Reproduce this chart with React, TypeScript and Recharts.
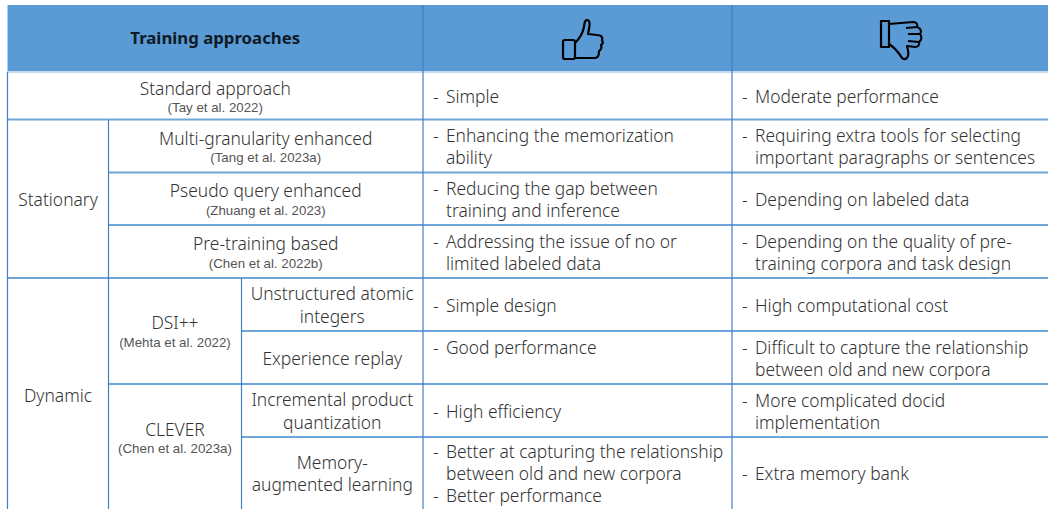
import { ReferenceArea, ReferenceLine, Scatter, ScatterChart, XAxis, YAxis } from "recharts";

const WIDTH = 1048;
const HEIGHT = 509;

// table text, top to bottom
const groups = ["Stationary", "Dynamic"];
const standardApproach = ["Standard approach", "(Tay et al. 2022)"];
const stationaryMethods = [
  ["Multi-granularity enhanced", "(Tang et al. 2023a)"],
  ["Pseudo query enhanced", "(Zhuang et al. 2023)"],
  ["Pre-training based", "(Chen et al. 2022b)"]
];
const dynamicMethods = [
  ["DSI++", "(Mehta et al. 2022)"],
  ["CLEVER", "(Chen et al. 2023a)"]
];
const dynamicVariants = [
  ["Unstructured atomic", "integers"],
  ["Experience replay"],
  ["Incremental product", "quantization"],
  ["Memory-", "augmented learning"]
];
const pros = [
  ["- Simple"],
  ["- Enhancing the memorization", "ability"],
  ["- Reducing the gap between", "training and inference"],
  ["- Addressing the issue of no or", "limited labeled data"],
  ["- Simple design"],
  // top aligned in the source, the blank line keeps it on the first row
  ["- Good performance", ""],
  ["- High efficiency"],
  ["- Better at capturing the relationship", "between old and new corpora", "- Better performance"]
];
const cons = [
  ["- Moderate performance"],
  ["- Requiring extra tools for selecting", "important paragraphs or sentences"],
  ["- Depending on labeled data"],
  ["- Depending on the quality of pre-", "training corpora and task design"],
  ["- High computational cost"],
  ["- Difficult to capture the relationship", "between old and new corpora"],
  ["- More complicated docid", "implementation"],
  ["- Extra memory bank"]
];

// table grid
const colEdges = [7.5, 108.5, 241.5, 423, 732, WIDTH];
const rowEdges = [5, 72, 119.5, 172.5, 225, 278, 331, 384, 437, 509];

const horizontalLines = [
  { row: 2, from: 0 },
  { row: 3, from: 1 },
  { row: 4, from: 1 },
  { row: 5, from: 0 },
  { row: 6, from: 2 },
  { row: 7, from: 1 },
  { row: 8, from: 2 }
];
const verticalLines = [
  { col: 0, from: 1 },
  { col: 1, from: 2 },
  { col: 2, from: 5 },
  { col: 3, from: 0 },
  { col: 4, from: 0 }
];

const FONT = "'Noto Sans', sans-serif";
const CITE_FONT = "'Liberation Sans', sans-serif";
const TEXT_COLOR = "#333333";
const CITE_COLOR = "#555555";
const MAIN_SIZE = 17.4;

interface Cell {
  x: number;
  y: number;
  lines: string[];
  kind: "center" | "method" | "list" | "title" | "up" | "down";
}

const centerX = (col: number, end: number) => (colEdges[col] + colEdges[end]) / 2;
const centerY = (row: number, end: number) => (rowEdges[row] + rowEdges[end]) / 2;

const cells: Cell[] = [
  { x: centerX(0, 3), y: 37, lines: ["Training approaches"], kind: "title" },
  { x: 583, y: 40, lines: [], kind: "up" },
  { x: 901, y: 40, lines: [], kind: "down" },
  { x: centerX(0, 3), y: centerY(1, 2) + 1, lines: standardApproach, kind: "method" },
  { x: centerX(0, 1), y: centerY(2, 5), lines: [groups[0]], kind: "center" },
  { x: centerX(0, 1), y: centerY(5, 9) + 1, lines: [groups[1]], kind: "center" },
  ...stationaryMethods.map((lines, i) => ({
    x: centerX(1, 3),
    y: centerY(i + 2, i + 3) + 0.5,
    lines,
    kind: "method" as const
  })),
  // the table is cropped at the bottom, so CLEVER sits above the visible middle
  { x: centerX(1, 2), y: centerY(5, 7), lines: dynamicMethods[0], kind: "method" },
  { x: centerX(1, 2), y: centerY(7, 9) - 9, lines: dynamicMethods[1], kind: "method" },
  ...dynamicVariants.map((lines, i) => ({
    x: centerX(2, 3),
    y: centerY(i + 5, i + 6),
    lines,
    kind: "center" as const
  })),
  ...pros.map((lines, i) => ({
    x: colEdges[3] + 10,
    y: centerY(i + 1, i + 2),
    lines,
    kind: "list" as const
  })),
  ...cons.map((lines, i) => ({
    x: colEdges[4] + 10,
    y: centerY(i + 1, i + 2),
    lines,
    kind: "list" as const
  }))
];

function ThumbUp({ cx, cy }: { cx: number; cy: number }) {
  return (
    <g transform={`translate(${cx},${cy})`} fill="none" stroke="#000000" strokeWidth={2.2} strokeLinejoin="round">
      <rect x={-20} y={0} width={12} height={19} rx={2} />
      <path d="M-8 3 C-3 -2 0 -8 1 -13 C1.5 -18 2 -20 4 -20 C7 -20 7 -16 6 -11 L5 -6 L14 -5 C18 -5 20 -3 19 0 C20 2 20 4 18 5 C19 7 18 10 16 11 C16 14 15 18 12 18 L-8 18" />
    </g>
  );
}

function ThumbDown({ cx, cy }: { cx: number; cy: number }) {
  return (
    <g transform={`translate(${cx},${cy})`} fill="none" stroke="#000000" strokeWidth={2.2} strokeLinejoin="round">
      <rect x={-20} y={-19} width={8} height={26} />
      <path d="M-12 -16 L12 -18 C16 -18 17 -15 16 -13 C20 -12 21 -8 19 -6 C21 -4 21 0 18 2 C19 5 17 7 14 7 L6 6 C7 10 8 14 7 16 C6 19 3 20 1 18 C-2 13 -6 8 -12 4" />
      <path d="M5 -12 L16 -13 M7 -6 L19 -6 M7 1 L18 2" />
    </g>
  );
}

function CellMark(props: any) {
  const { cx, cy, payload } = props;
  const cell = payload as Cell;

  if (cell.kind === "up") return <ThumbUp cx={cx} cy={cy} />;
  if (cell.kind === "down") return <ThumbDown cx={cx} cy={cy} />;

  if (cell.kind === "title") {
    return (
      <text x={cx} y={cy} textAnchor="middle" dominantBaseline="central" fontFamily={FONT} fontSize={16.8} fontWeight={700} fill="#0f1a26">
        {cell.lines[0]}
      </text>
    );
  }

  if (cell.kind === "method") {
    return (
      <g textAnchor="middle">
        <text x={cx} y={cy - 9} dominantBaseline="central" fontFamily={FONT} fontWeight={300} fontSize={MAIN_SIZE} fill={TEXT_COLOR}>
          {cell.lines[0]}
        </text>
        <text x={cx} y={cy + 11} dominantBaseline="central" fontFamily={CITE_FONT} fontSize={13.3} fill={CITE_COLOR}>
          {cell.lines[1]}
        </text>
      </g>
    );
  }

  if (cell.kind === "center") {
    const pitch = 22.5;
    const top = cy - ((cell.lines.length - 1) * pitch) / 2;
    return (
      <g fontFamily={FONT} fontWeight={300} textAnchor="middle" fontSize={MAIN_SIZE} fill={TEXT_COLOR}>
        {cell.lines.map((line, i) => (
          <text key={line} x={cx} y={top + i * pitch} dominantBaseline="central">
            {line}
          </text>
        ))}
      </g>
    );
  }

  // list cell: dash in the margin, wrapped lines hang under the text
  const pitch = 22;
  const top = cy - ((cell.lines.length - 1) * pitch) / 2;
  return (
    <g fontFamily={FONT} fontWeight={300} fontSize={MAIN_SIZE} fill={TEXT_COLOR}>
      {cell.lines.map((line, i) => {
        if (!line) return null;
        const hasDash = line.startsWith("- ");
        return (
          <g key={line}>
            {hasDash && (
              <text x={cx} y={top + i * pitch} dominantBaseline="central">
                -
              </text>
            )}
            <text x={cx + 13} y={top + i * pitch} dominantBaseline="central">
              {hasDash ? line.slice(2) : line}
            </text>
          </g>
        );
      })}
    </g>
  );
}

export default function App() {
  return (
    <div style={{ position: "absolute", left: 0, top: 0, width: WIDTH, height: HEIGHT, background: "#ffffff" }}>
      <ScatterChart width={WIDTH} height={HEIGHT} margin={{ top: 0, right: 0, bottom: 0, left: 0 }}>
        <XAxis type="number" dataKey="x" domain={[0, WIDTH]} hide />
        <YAxis type="number" dataKey="y" domain={[0, HEIGHT]} reversed hide />
        <ReferenceArea x1={colEdges[0]} x2={WIDTH} y1={rowEdges[0]} y2={rowEdges[1]} fill="#5b9bd5" fillOpacity={1} stroke="none" />
        <ReferenceLine
          segment={[{ x: colEdges[0], y: rowEdges[1] }, { x: WIDTH, y: rowEdges[1] }]}
          stroke="#c3daef"
          strokeWidth={2}
        />
        {horizontalLines.map((line) => (
          <ReferenceLine
            key={`h${line.row}`}
            segment={[{ x: colEdges[line.from], y: rowEdges[line.row] }, { x: WIDTH, y: rowEdges[line.row] }]}
            stroke="#6ea6da"
            strokeWidth={2}
          />
        ))}
        {verticalLines.map((line) => (
          <ReferenceLine
            key={`v${line.col}`}
            segment={[{ x: colEdges[line.col], y: rowEdges[line.from] }, { x: colEdges[line.col], y: HEIGHT }]}
            stroke="#3f80c4"
            strokeWidth={1.2}
          />
        ))}
        <Scatter data={cells} shape={CellMark} isAnimationActive={false} />
      </ScatterChart>
    </div>
  );
}
